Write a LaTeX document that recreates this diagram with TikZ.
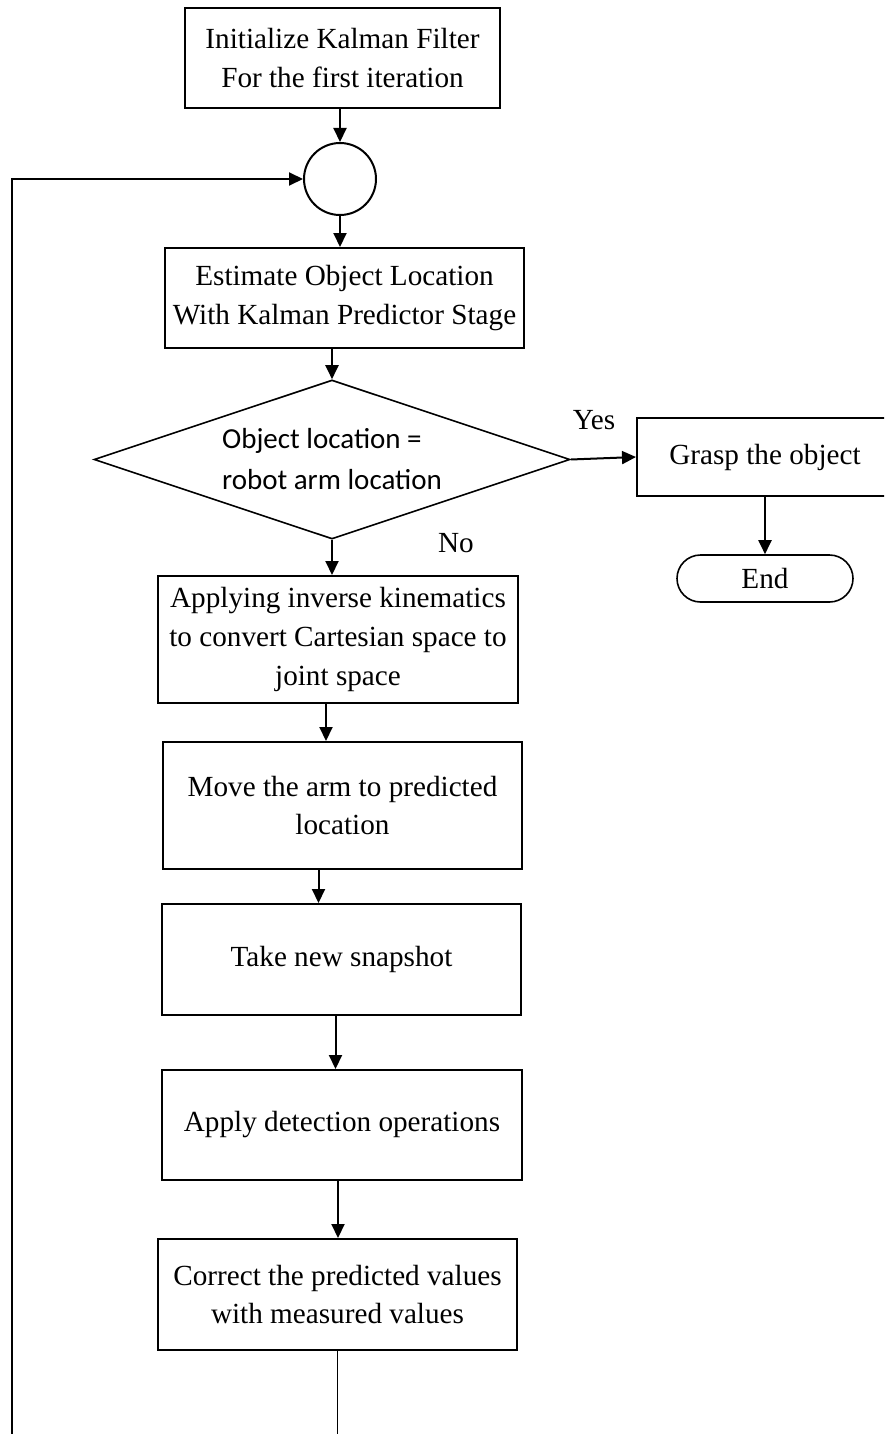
\documentclass[tikz,border=0pt]{standalone}
\usepackage{fontspec}
\setmainfont{Liberation Serif}
\newfontfamily\calibri{Carlito}
\usetikzlibrary{shapes.geometric}
\usetikzlibrary{shapes.misc}
\usetikzlibrary{arrows.meta}

\begin{document}
\begin{tikzpicture}[x=0.5pt, y=-0.5pt,
        stage/.style={draw, rectangle, line width=1pt, align=center, inner sep=0pt,
            font=\fontsize{14.6}{19.4}\selectfont},
        flow/.style={line width=1pt, -{Triangle[length=7pt,width=6.5pt]}}]
        \clip (0,0) rectangle (884,1434);

        % Setup of the filter and the loop junction
        \node[stage, minimum width=157.5pt, minimum height=50pt] (init) at (342.5,58) {Initialize Kalman Filter\\For the first iteration};
        \node[draw, circle, line width=1pt, minimum size=36pt, inner sep=0pt] (join) at (340,179) {};
        \node[stage, minimum width=179.5pt, minimum height=50pt] (est) at (344.5,298) {Estimate Object Location\\With Kalman Predictor Stage};

        % Decision
        \node[draw, diamond, aspect=3, line width=0.8pt, minimum width=238pt, minimum height=79.5pt, inner sep=0pt,
            align=left, font=\calibri\fontsize{14.5}{20.5}\selectfont] (dec) at (332,459.5) {Object location =\\robot arm location};
        \node[font=\fontsize{14.6}{17}\selectfont] (yes) at (594,420) {Yes};
        \node[font=\fontsize{14.6}{17}\selectfont] (no) at (456,543) {No};

        % Yes branch
        \node[stage, minimum width=128pt, minimum height=39pt] (grasp) at (765,457) {Grasp the object};
        \node[draw, rounded rectangle, line width=0.8pt, minimum width=88pt, minimum height=23.5pt, inner sep=0pt,
            font=\fontsize{14.6}{17}\selectfont] (end) at (765,578.5) {End};

        % No branch
        \node[stage, minimum width=180pt, minimum height=63.5pt] (apply) at (338,639.5) {Applying inverse kinematics\\to convert Cartesian space to\\joint space};
        \node[stage, minimum width=179.5pt, minimum height=63.5pt] (move) at (342.5,805.5) {Move the arm to predicted\\location};
        \node[stage, minimum width=179.5pt, minimum height=55.5pt] (snap) at (341.5,959.5) {Take new snapshot};
        \node[stage, minimum width=180pt, minimum height=55pt] (detect) at (342,1125) {Apply detection operations};
        \node[stage, minimum width=179.5pt, minimum height=55.5pt] (correct) at (337.5,1294.5) {Correct the predicted values\\with measured values};

        % Loop ends (cut at the lower edge)
        \coordinate (cutR) at (337.5,1440);
        \coordinate (cutL) at (12,1440);

        % Connectors
        \draw[flow] (init.south -| join.north) -- (join.north);
        \draw[flow] (join.south) -- (join.south |- est.north);
        \draw[flow] (est.south -| dec.north) -- (dec.north);
        \draw[flow] (dec.east) -- (grasp.west);
        \draw[flow] (grasp.south) -- (end.north);
        \draw[flow] (dec.south) -- (dec.south |- apply.north);
        \draw[flow] ([xshift=-6pt]apply.south) -- ([xshift=-6pt]apply.south |- move.north);
        \draw[flow] ([xshift=-12pt]move.south) -- ([xshift=-12pt]move.south |- snap.north);
        \draw[flow] ([xshift=-3pt]snap.south) -- ([xshift=-3pt]snap.south |- detect.north);
        \draw[flow] ([xshift=-2pt]detect.south) -- ([xshift=-2pt]detect.south |- correct.north);
        \draw[line width=0.6pt] (correct.south) -- (cutR);
        \draw[flow] (cutL) |- (join.west);
\end{tikzpicture}
\end{document}
